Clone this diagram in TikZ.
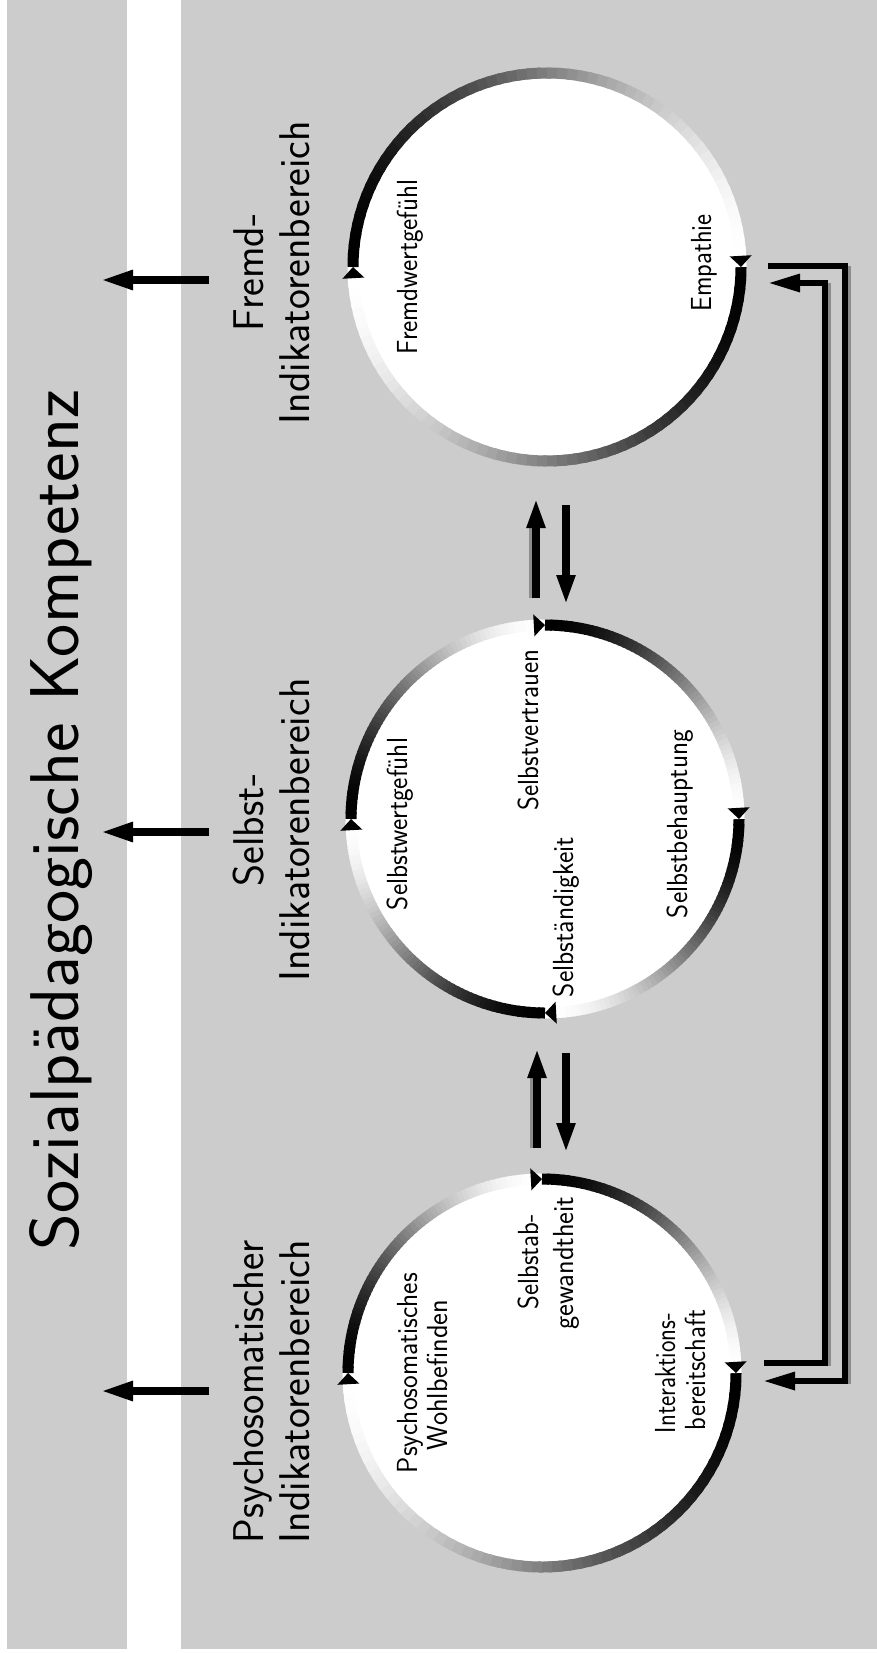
\documentclass[tikz,border=0pt]{standalone}
\usepackage{fontspec}
\usepackage{graphicx}
\usetikzlibrary{arrows.meta,calc}
\definecolor{bggray}{HTML}{CCCCCC}
\definecolor{shadegray}{HTML}{8C8C8C}
\newcommand{\fitto}[2]{\resizebox{#1}{\height}{#2}}
\newcommand{\titlefont}{\sffamily\fontsize{69}{80}\selectfont}
\newcommand{\areafont}{\sffamily\fontsize{43}{50}\selectfont}
\newcommand{\itemfont}{\sffamily\fontsize{29}{35}\selectfont}
\newlength{\indw}
% gradient arc: centre node, start angle, end angle (clockwise on page)
\newcommand{\gradarc}[3]{%
  \foreach \k in {0,1,...,59}{%
    \pgfmathsetmacro\aA{#2+(#3-#2)*\k/60}%
    \pgfmathsetmacro\aB{min(#3,#2+(#3-#2)*(\k+1.4)/60)}%
    \pgfmathsetmacro\gpc{50*(1+cos(180*(\k+0.5)/60))}%
    \draw[line width=11pt, draw=black!\gpc!white] (#1.center) ++(\aA:194) arc[start angle=\aA, end angle=\aB, radius=194];
  }%
}
\newcommand{\ringmark}[2]{%
  \fill[black] ($(#1.center)+({#2-3.3}:205)$) -- ($(#1.center)+({#2-3.3}:183)$) -- ($(#1.center)+({#2}:194)$) -- cycle;%
}
\begin{document}
\settowidth{\indw}{\areafont Indikatorenbereich}%
\pgfmathsetmacro\areafac{303/\indw}%
\begin{tikzpicture}[x=1pt,y=-1pt,
  lab/.style={rotate=90, inner sep=0pt, outer sep=0pt},
  sidearrow/.style={line width=8pt, -{Triangle[length=33pt,width=18pt]}},
  linkarrow/.style={line width=8pt, -{Triangle[length=30pt,width=17pt]}},
  bracket/.style={line width=6pt, -{Triangle[length=32pt,width=17pt]}},
  disc/.style={circle, fill=white, minimum size=390pt, inner sep=0pt}]
\useasboundingbox (0,0) rectangle (877,1653);
\fill[white] (0,0) rectangle (877,1653);
\fill[bggray] (7,0) rectangle (877,1649);
\fill[white] (127,0) rectangle (181,1649);

% title
\node[lab, anchor=base, font=\titlefont] (title) at (78,820) {\fitto{860pt}{Sozialpädagogische Kompetenz}};

% area labels
\node[lab, anchor=base, font=\areafont] (psyA) at (263,1391.5) {\fitto{303pt}{Psychosomatischer}};
\node[lab, anchor=base, font=\areafont] (psyB) at (309,1391.5) {\fitto{303pt}{Indikatorenbereich}};
\node[lab, anchor=base, font=\areafont] (selA) at (263,830) {\scalebox{\areafac}[1]{Selbst-}};
\node[lab, anchor=base, font=\areafont] (selB) at (309,830) {\fitto{303pt}{Indikatorenbereich}};
\node[lab, anchor=base, font=\areafont] (frA) at (263,272.5) {\scalebox{\areafac}[1]{Fremd-}};
\node[lab, anchor=base, font=\areafont] (frB) at (309,272.5) {\fitto{303pt}{Indikatorenbereich}};

% side arrows
\coordinate (a1s) at (209,280); \coordinate (a1t) at (100,280);
\coordinate (a2s) at (209,832); \coordinate (a2t) at (100,832);
\coordinate (a3s) at (209,1391); \coordinate (a3t) at (100,1391);
\draw[sidearrow] (a1s) -- (a1t);
\draw[sidearrow] (a2s) -- (a2t);
\draw[sidearrow] (a3s) -- (a3t);

% circles
\node[disc] (c1) at (547,267) {};
\node[disc] (c2) at (545,819) {};
\node[disc] (c3) at (542,1373) {};

\gradarc{c1}{0}{180}
\gradarc{c1}{180}{360}
\gradarc{c2}{0}{90}
\gradarc{c2}{90}{180}
\gradarc{c2}{180}{270}
\gradarc{c2}{270}{360}
\gradarc{c3}{0}{180}
\gradarc{c3}{180}{270}
\gradarc{c3}{270}{360}

\ringmark{c1}{0}
\ringmark{c1}{180}
\ringmark{c2}{0}
\ringmark{c2}{90}
\ringmark{c2}{180}
\ringmark{c2}{270}
\ringmark{c3}{0}
\ringmark{c3}{180}
\ringmark{c3}{270}

% inner labels
\node[lab, anchor=base, font=\itemfont] (fw) at (417,267) {\fitto{175pt}{Fremdwertgefühl}};
\node[lab, anchor=base, font=\itemfont] (em) at (711,263) {\fitto{97pt}{Empathie}};
\node[lab, anchor=base, font=\itemfont] (sw) at (407,824) {\fitto{172pt}{Selbstwertgefühl}};
\node[lab, anchor=base, font=\itemfont] (sv) at (538,730) {\fitto{160pt}{Selbstvertrauen}};
\node[lab, anchor=base, font=\itemfont] (ss) at (573,917) {\fitto{160pt}{Selbständigkeit}};
\node[lab, anchor=base, font=\itemfont] (sb) at (687,824) {\fitto{188pt}{Selbstbehauptung}};
\node[lab, anchor=base, font=\itemfont] (pwA) at (417,1373) {\fitto{200pt}{Psychosomatisches}};
\node[lab, anchor=base, font=\itemfont] (pwB) at (447,1375) {\fitto{150pt}{Wohlbefinden}};
\node[lab, anchor=base, font=\itemfont] (sgA) at (538,1262) {\fitto{95pt}{Selbstab-}};
\node[lab, anchor=base, font=\itemfont] (sgB) at (573,1263) {\fitto{133pt}{gewandtheit}};
\node[lab, anchor=base, font=\itemfont] (ibA) at (675,1373) {\fitto{120pt}{Interaktions-}};
\node[lab, anchor=base, font=\itemfont] (ibB) at (705,1370) {\fitto{120pt}{bereitschaft}};

% links between circles
\coordinate (u1s) at (536,598); \coordinate (u1t) at (536,498);
\coordinate (d1s) at (566,505); \coordinate (d1t) at (566,605);
\coordinate (u2s) at (537,1148); \coordinate (u2t) at (537,1048);
\coordinate (d2s) at (566,1053); \coordinate (d2t) at (566,1153);
\draw[shadegray, line width=3pt] ($(u1s)+(-5.5,0)$) -- ($(u1t)+(-5.5,30)$);
\draw[shadegray, line width=3pt] ($(u2s)+(-5.5,0)$) -- ($(u2t)+(-5.5,30)$);
\draw[linkarrow] (u1s) -- (u1t);
\draw[linkarrow] (d1s) -- (d1t);
\draw[linkarrow] (u2s) -- (u2t);
\draw[linkarrow] (d2s) -- (d2t);

% feedback brackets
\coordinate (oS) at (768,266); \coordinate (oC) at (845,1381); \coordinate (oT) at (763,1381);
\coordinate (iS) at (764,1363); \coordinate (iC) at (825,283); \coordinate (iT) at (768,283);
\draw[shadegray, line width=3pt] (849.5,266) -- (849.5,1384);
\draw[shadegray, line width=3pt] (829.5,283) -- (829.5,1366);
\draw[bracket] (oS) -| (oC) -- (oT);
\draw[bracket] (iS) -| (iC) -- (iT);
\end{tikzpicture}
\end{document}
